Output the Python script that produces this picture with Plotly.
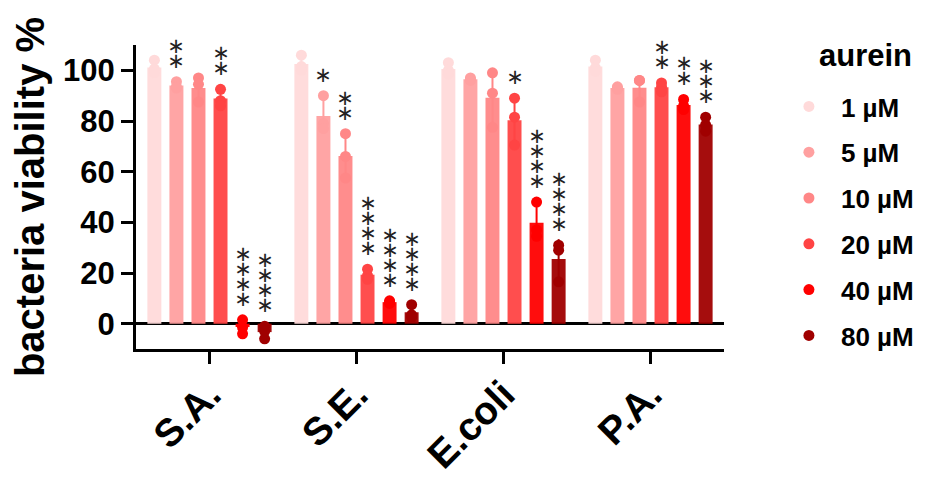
import numpy as np
import plotly.graph_objects as go

categories = ["S.A.", "S.E.", "E.coli", "P.A."]
concentrations = ["1 µM", "5 µM", "10 µM", "20 µM", "40 µM", "80 µM"]
colors = ["#FFDADA", "#FFA0A0", "#FF8787", "#FF4444", "#FF0000", "#A00000"]

# replicate values (3 per bar), per concentration: list over categories
rep_1uM = [[104, 100.5, 99], [106, 101.5, 100], [103, 100, 98.5], [104, 101, 99.5]]
rep_5uM = [[95.5, 93.5, 93], [90, 79, 77], [97, 96.5, 96], [93.5, 93, 92.5]]
rep_10uM = [[97, 94.5, 87.5], [75, 66, 57.5], [99, 91, 77.5], [96, 96, 87.5]]
rep_20uM = [[92.5, 88, 86], [21.5, 19, 17.5], [89, 81.5, 70.5], [95, 93.5, 91.5]]
rep_40uM = [[1.5, -1.5, -4], [9, 8.5, 8], [48, 37, 34.5], [88.5, 86, 84.5]]
rep_80uM = [[-1, -3, -6], [7.5, 3.5, 2.5], [31, 29, 16.5], [81.5, 78.5, 76]]
replicates = [rep_1uM, rep_5uM, rep_10uM, rep_20uM, rep_40uM, rep_80uM]

# number of significance stars, per concentration: list over categories
stars_1uM = [0, 0, 0, 0]
stars_5uM = [2, 1, 0, 0]
stars_10uM = [0, 2, 0, 0]
stars_20uM = [2, 4, 1, 2]
stars_40uM = [4, 4, 4, 2]
stars_80uM = [4, 4, 4, 3]
stars = [stars_1uM, stars_5uM, stars_10uM, stars_20uM, stars_40uM, stars_80uM]

y_ticks = [0, 20, 40, 60, 80, 100]
legend_title = "aurein"

slot = 0.15
bar_w = 0.095
n = len(concentrations)

fig = go.Figure()
annotations = []
for j, conc in enumerate(concentrations):
    xs = [i + (j - (n - 1) / 2) * slot for i in range(len(categories))]
    reps = replicates[j]
    means = [float(np.mean(r)) for r in reps]
    sds = [float(np.std(r, ddof=1)) for r in reps]
    fig.add_trace(go.Bar(
        x=xs, y=means, width=bar_w,
        marker=dict(color=colors[j], opacity=0.95, line=dict(width=0)),
        error_y=dict(type="data", array=sds, visible=True, color=colors[j],
                     thickness=2, width=0),
        showlegend=False, legendgroup=conc,
    ))
    px_, py_ = [], []
    for i, r in enumerate(reps):
        for v in r:
            px_.append(xs[i])
            py_.append(v)
    fig.add_trace(go.Scatter(
        x=px_, y=py_, mode="markers", name=conc, legendgroup=conc,
        marker=dict(color=colors[j], size=11, line=dict(width=0)),
    ))
    for i in range(len(categories)):
        for k in range(stars[j][i]):
            annotations.append(dict(
                x=xs[i], y=max(reps[i]), xref="x", yref="y",
                text="∗", showarrow=False, yanchor="middle",
                yshift=21 + 15 * k, height=14, width=14,
                font=dict(family="DejaVu Sans", size=21, color="#222222"),
            ))

annotations.append(dict(
    x=1.24, y=0.965, xref="paper", yref="paper", text=legend_title,
    showarrow=False, xanchor="center", yanchor="middle",
    font=dict(size=31, weight="bold", color="black"),
))

# the page body adds an 8px offset, so margins are compensated by 8px
fig.update_layout(
    width=927, height=477,
    margin=dict(l=128, r=211, t=37, b=136, autoexpand=False),
    paper_bgcolor="white", plot_bgcolor="white",
    barmode="overlay",
    font=dict(family="Arial, Liberation Sans, sans-serif", color="black"),
    annotations=annotations,
    legend=dict(
        font=dict(size=26, weight="bold"),
        x=1.09, xanchor="left", y=0.875, yanchor="top",
        traceorder="grouped", tracegroupgap=9, itemsizing="trace",
        itemwidth=54, maxheight=1,
    ),
    xaxis=dict(
        range=[-0.5, 3.5], tickvals=list(range(len(categories))), ticktext=categories,
        tickangle=-45, showline=True, linewidth=3, linecolor="black",
        ticks="outside", ticklen=12, tickwidth=3, tickcolor="black",
        tickfont=dict(size=39, weight="bold"), showgrid=False, zeroline=False,
        automargin=False, ticklabelstandoff=-8,
    ),
    yaxis=dict(
        range=[-10, 110], tickvals=y_ticks, showline=True, linewidth=3, linecolor="black",
        ticks="outside", ticklen=12, tickwidth=3, tickcolor="black",
        tickfont=dict(size=31, weight="bold"), showgrid=False,
        zeroline=True, zerolinecolor="black", zerolinewidth=3,
        title=dict(text="bacteria viability %", font=dict(size=40, weight="bold"), standoff=10),
        automargin=False,
    ),
)

fig.write_html("out.html")
